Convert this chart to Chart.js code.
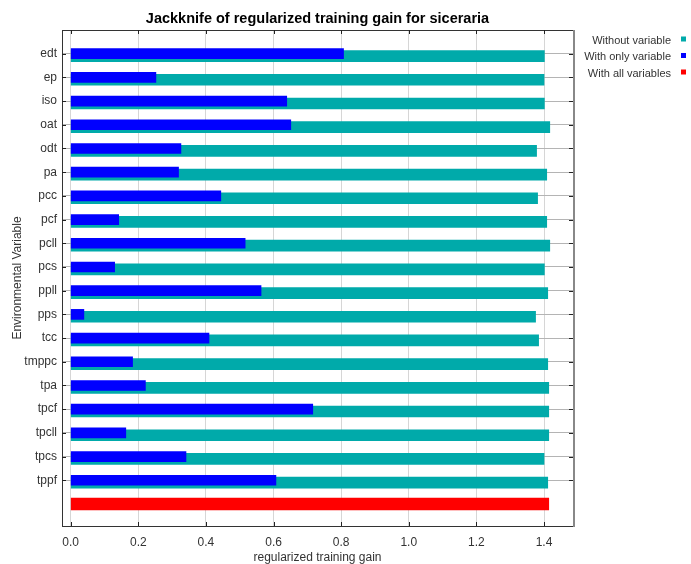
<!DOCTYPE html>
<html>
<head>
<meta charset="utf-8">
<script src="https://cdn.jsdelivr.net/npm/chart.js@4.4.1/dist/chart.umd.min.js"></script>
<style>
  html, body { margin: 0; padding: 0; background: #fff; }
  #wrap { width: 691px; height: 564px; }
</style>
</head>
<body>
<div id="wrap"><canvas id="jk"></canvas></div>
<script>
/* Jackknife of regularized training gain — horizontal bars */

const categories = ['edt', 'ep', 'iso', 'oat', 'odt', 'pa', 'pcc', 'pcf', 'pcll', 'pcs',
                    'ppll', 'pps', 'tcc', 'tmppc', 'tpa', 'tpcf', 'tpcll', 'tpcs', 'tppf'];
const withoutVariable = [1.401, 1.400, 1.401, 1.417, 1.378, 1.408, 1.381, 1.408, 1.417, 1.401,
                         1.411, 1.375, 1.384, 1.411, 1.414, 1.414, 1.414, 1.400, 1.411];
const withOnlyVariable = [0.807, 0.252, 0.639, 0.651, 0.326, 0.319, 0.444, 0.142, 0.516, 0.130,
                          0.563, 0.039, 0.409, 0.183, 0.221, 0.716, 0.163, 0.341, 0.607];
const withAllVariables = [1.414];
const xTicks = [0.0, 0.2, 0.4, 0.6, 0.8, 1.0, 1.2, 1.4];

const TITLE = 'Jackknife of regularized training gain for siceraria';
const TEAL = '#00aaaa', BLUE = '#0000ff', RED = '#ff0000';
const FONT = "'Liberation Sans', Arial, sans-serif";

Chart.defaults.font.family = FONT;
Chart.defaults.font.size = 12;
Chart.defaults.color = '#333';

const toPoints = arr => arr.map((v, i) => ({ x: v, y: i }));

// legend order differs from draw order (blue must sit on top of teal)
const legendItems = [
  { text: 'Without variable',   color: TEAL },
  { text: 'With only variable', color: BLUE },
  { text: 'With all variables', color: RED  },
];

/* ─── frame, inner tick marks, title, legend ─── */
const decorations = {
  id: 'decorations',
  afterDraw(chart) {
    const { ctx, chartArea: a, scales } = chart;
    ctx.save();

    // frame
    ctx.strokeStyle = '#333';
    ctx.lineWidth = 1;
    ctx.strokeRect(Math.round(a.left) + 0.5, Math.round(a.top) + 0.5,
                   Math.round(a.right - a.left), Math.round(a.bottom - a.top));
    ctx.strokeStyle = '#888';
    ctx.lineWidth = 2;
    ctx.beginPath();
    ctx.moveTo(Math.round(a.right) + 1, a.top);
    ctx.lineTo(Math.round(a.right) + 1, a.bottom + 1);
    ctx.stroke();

    // tick marks pointing inward
    ctx.strokeStyle = '#222';
    ctx.lineWidth = 1;
    ctx.beginPath();
    scales.x.ticks.forEach(t => {
      const px = Math.round(scales.x.getPixelForValue(t.value)) + 0.5;
      ctx.moveTo(px, a.top); ctx.lineTo(px, a.top + 4);
      ctx.moveTo(px, a.bottom); ctx.lineTo(px, a.bottom - 4);
    });
    scales.y.ticks.forEach(t => {
      const py = Math.round(scales.y.getPixelForValue(t.value)) + 0.5;
      ctx.moveTo(a.left, py); ctx.lineTo(a.left + 4, py);
      ctx.moveTo(a.right, py); ctx.lineTo(a.right - 4, py);
    });
    ctx.stroke();

    // title, centred over the plot
    ctx.fillStyle = '#000';
    ctx.font = 'bold 14.5px ' + FONT;
    ctx.textAlign = 'center';
    ctx.textBaseline = 'middle';
    ctx.fillText(TITLE, (a.left + a.right) / 2, 19);

    // legend, text right-aligned with a small square after it
    ctx.font = '11px ' + FONT;
    ctx.textAlign = 'right';
    legendItems.forEach((it, i) => {
      const y = 40.5 + i * 16.5;
      ctx.fillStyle = '#333';
      ctx.fillText(it.text, 671, y);
      ctx.fillStyle = it.color;
      ctx.fillRect(681, y - 4, 5, 5);
    });

    ctx.restore();
  }
};

new Chart(document.getElementById('jk'), {
  type: 'bar',
  data: {
    datasets: [
      { label: 'With only variable', data: toPoints(withOnlyVariable), backgroundColor: BLUE,
        barThickness: 10, yAxisID: 'y' },
      { label: 'Without variable', data: toPoints(withoutVariable), backgroundColor: TEAL,
        barThickness: 11, yAxisID: 'y2' },
      { label: 'With all variables',
        data: withAllVariables.map(v => ({ x: v, y: categories.length })),
        backgroundColor: RED, barThickness: 12, yAxisID: 'y' },
    ]
  },
  options: {
    indexAxis: 'y',
    responsive: true,
    maintainAspectRatio: false,
    animation: false,
    devicePixelRatio: 1,
    layout: { padding: { top: 30, right: 118, bottom: 0, left: 0 } },
    datasets: { bar: { grouped: false } },
    plugins: { legend: { display: false }, title: { display: false }, tooltip: { enabled: false } },
    scales: {
      x: {
        type: 'linear',
        min: -0.0257, max: 1.4857,
        afterBuildTicks: s => { s.ticks = xTicks.map(v => ({ value: v })); },
        afterFit: s => { s.height = 38; },
        grid: { color: '#d6d6d6', lineWidth: 1, drawTicks: false },
        border: { display: false },
        ticks: { callback: v => v.toFixed(1), padding: 9, maxRotation: 0 },
        title: { display: true, text: 'regularized training gain', padding: { top: 0, bottom: -1 } }
      },
      y: {
        type: 'linear',
        reverse: true,
        offset: false,
        min: -1.0, max: 19.93,
        afterBuildTicks: s => { s.ticks = categories.map((_, i) => ({ value: i })); },
        afterFit: s => { s.width = 62; },
        grid: { color: '#b4b4b4', lineWidth: 1, drawTicks: false, offset: false },
        border: { display: false },
        ticks: { callback: v => categories[v], padding: 5, autoSkip: false },
        title: { display: true, text: 'Environmental Variable', padding: { top: 10, bottom: 0 } }
      },
      y2: {
        type: 'linear',
        reverse: true,
        offset: false,
        display: false,
        min: -1.1, max: 19.83,
        grid: { offset: false }
      }
    }
  },
  plugins: [decorations]
});
</script>
</body>
</html>
